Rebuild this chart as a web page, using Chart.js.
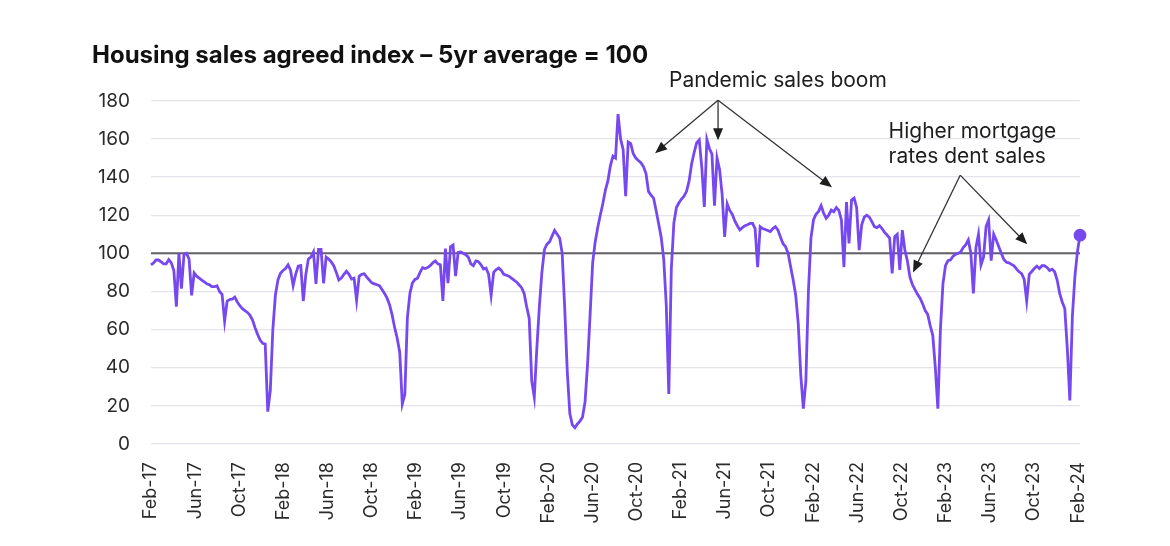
<!DOCTYPE html>
<html>
<head>
<meta charset="utf-8">
<script src="https://cdn.jsdelivr.net/npm/chart.js@4.4.1/dist/chart.umd.min.js"></script>
<style>
  html, body { margin: 0; padding: 0; background: #fff; }
  #wrap { width: 1170px; height: 546px; }
</style>
</head>
<body>
<div id="wrap"><canvas id="chart"></canvas></div>
<script>
// Weekly sales agreed index (5yr average = 100), first week of Feb 2017 onwards
const weeks2017 = [94, 95, 96.5, 96.5, 95.5, 94.5, 94.5, 96.7, 95, 91, 72, 100, 81.5, 99.5, 100, 97, 78, 89.7, 88, 87,
  86, 85, 84, 83.5, 82.5, 82.5, 83, 80, 78.5, 64.5, 75, 75.8, 76, 77, 74.5, 72.5, 71, 70, 69, 67.5,
  65, 61, 57.5, 54.5, 52.8, 52.4, 17, 28, 60, 78, 86, 89.5];
const weeks2018 = [91, 92, 94, 91, 83, 89, 93.3, 93.6, 75, 89, 97, 98, 100.7, 84, 102, 102, 84.3, 98, 97, 95.5,
  93.5, 90, 86, 87, 89, 90.6, 89, 86.5, 87, 75.3, 88, 89, 89.3, 87.5, 86, 84.5, 84, 83.5, 83, 81,
  79, 76.5, 73, 67.7, 61, 55.5, 48, 21, 26, 66, 79, 84.5];
const weeks2019 = [86.3, 87, 90, 92.5, 92, 92.5, 93.5, 95, 96, 94.5, 94, 75, 102.5, 84.3, 103.5, 104.4, 88, 100.5, 100.7, 100,
  99.3, 98, 94.5, 93.5, 96, 95.6, 94, 91.8, 92.3, 89, 78, 90, 91.5, 92.3, 91, 89, 88.5, 88, 87, 86,
  85, 83.5, 82, 79, 72, 66, 33, 24.6, 50, 72, 90, 102];
const weeks2020 = [104.8, 106, 109, 112, 110, 108, 100, 71, 38, 16, 10, 8.5, 10.5, 12, 14, 22, 42, 68, 95, 106,
  113.5, 120, 126, 133, 138, 146, 151, 150, 173, 160, 154.5, 130, 158.4, 157.5, 152.2, 150, 148.7, 147.5, 145.5, 142,
  132.5, 130.5, 129, 122.5, 115.5, 108.5, 97, 73, 26.3, 92, 116, 124];
const weeks2021 = [126.5, 128.5, 130, 132.5, 138, 147, 153, 158, 159.5, 145, 124.3, 159.7, 155, 152, 125, 150, 144, 131, 108.6, 126,
  122.5, 120.5, 117, 114.5, 112.3, 113.5, 114.5, 115, 115.7, 115.7, 113, 92.8, 114, 113, 112.5, 112, 111.4, 113, 114, 112.2,
  108.5, 105, 103.5, 100, 93, 86, 78, 63, 36, 18.5, 33, 80];
const weeks2022 = [108, 117.5, 120.5, 122, 125, 121, 118.4, 120, 122.7, 121.8, 124, 122.5, 117.5, 92.8, 126.9, 105.2, 128, 129, 124, 101.7,
  115, 119, 120, 119, 116.6, 114, 113.5, 114.5, 113, 111, 109.6, 108, 89.5, 108.7, 110, 91.3, 112.2, 101.7, 96, 87.5,
  83.5, 81, 78.5, 76.5, 73.5, 70, 68, 62, 57, 40, 18.5, 60];
const weeks2023 = [84, 93.5, 96.2, 96.6, 98.5, 99.5, 100, 100.7, 103, 104.5, 107, 100, 79, 103, 110, 94, 98, 114, 117.5, 96.2,
  110, 107, 103.5, 100, 96.8, 95.3, 95, 94.2, 93.4, 91.8, 90.3, 89.3, 86.5, 75, 89, 90.5, 92, 93.3, 92, 93.5,
  93.5, 92.6, 91, 91.7, 90.3, 86, 79, 74.5, 71, 50, 22.8, 67];
const weeks2024 = [88, 101, 109.5];

const salesIndex = [].concat(weeks2017, weeks2018, weeks2019, weeks2020, weeks2021, weeks2022, weeks2023, weeks2024);

const tickLabels = ['Feb-17', 'Jun-17', 'Oct-17', 'Feb-18', 'Jun-18', 'Oct-18', 'Feb-19', 'Jun-19', 'Oct-19',
  'Feb-20', 'Jun-20', 'Oct-20', 'Feb-21', 'Jun-21', 'Oct-21', 'Feb-22', 'Jun-22', 'Oct-22',
  'Feb-23', 'Jun-23', 'Oct-23', 'Feb-24'];
const averageLevel = 100;

// four months expressed in weeks
const weeksPerTick = 365.25 / 7 / 3;

const lineColor = '#7548f0';
const textColor = '#2b2b2b';
const fontFamily = 'Inter, "Noto Sans", sans-serif';

// callouts, anchored in data coordinates (week index, index value)
const callouts = [
  { lines: ['Pandemic sales boom'], at: [247, 190.5], align: 'center',
    from: [223.4, 180.3], tips: [[198.6, 152.5], [223.4, 159.3], [268.3, 134.6]] },
  { lines: ['Higher mortgage', 'rates dent sales'], at: [290.6, 164], align: 'left',
    from: [318.8, 141], tips: [[300.2, 90], [345.2, 104.7]] }
];

const averageLine = {
  id: 'averageLine',
  beforeDatasetsDraw(chart) {
    const { ctx, chartArea, scales } = chart;
    const y = scales.y.getPixelForValue(averageLevel);
    ctx.save();
    ctx.strokeStyle = '#606066';
    ctx.lineWidth = 2;
    ctx.beginPath();
    ctx.moveTo(chartArea.left, y);
    ctx.lineTo(chartArea.right, y);
    ctx.stroke();
    ctx.restore();
  }
};

function drawArrow(ctx, x0, y0, x1, y1) {
  const ang = Math.atan2(y1 - y0, x1 - x0);
  const len = 12, half = 5;
  ctx.beginPath();
  ctx.moveTo(x0, y0);
  ctx.lineTo(x1 - Math.cos(ang) * len * 0.8, y1 - Math.sin(ang) * len * 0.8);
  ctx.stroke();
  ctx.beginPath();
  ctx.moveTo(x1, y1);
  ctx.lineTo(x1 - Math.cos(ang) * len + Math.sin(ang) * half, y1 - Math.sin(ang) * len - Math.cos(ang) * half);
  ctx.lineTo(x1 - Math.cos(ang) * len - Math.sin(ang) * half, y1 - Math.sin(ang) * len + Math.cos(ang) * half);
  ctx.closePath();
  ctx.fill();
}

const calloutPlugin = {
  id: 'callouts',
  afterDraw(chart) {
    const { ctx, scales } = chart;
    const px = (p) => [scales.x.getPixelForValue(p[0]), scales.y.getPixelForValue(p[1])];
    ctx.save();
    ctx.font = '400 21px ' + fontFamily;
    ctx.fillStyle = '#1e1e1e';
    ctx.strokeStyle = '#333';
    ctx.lineWidth = 1.3;
    callouts.forEach((c) => {
      const [tx, ty] = px(c.at);
      ctx.textAlign = c.align;
      ctx.textBaseline = 'middle';
      c.lines.forEach((line, k) => ctx.fillText(line, tx, ty + k * 25));
      const [ox, oy] = px(c.from);
      c.tips.forEach((t) => {
        const [ax, ay] = px(t);
        drawArrow(ctx, ox, oy, ax, ay);
      });
    });
    ctx.restore();
  }
};

new Chart(document.getElementById('chart'), {
  type: 'line',
  data: {
    datasets: [{
      data: salesIndex.map((v, i) => ({ x: i, y: v })),
      borderColor: lineColor,
      backgroundColor: lineColor,
      borderWidth: 2.8,
      pointRadius: (c) => (c.dataIndex === salesIndex.length - 1 ? 5 : 0),
      pointHoverRadius: 0,
      clip: false,
      tension: 0
    }]
  },
  options: {
    responsive: true,
    maintainAspectRatio: false,
    animation: false,
    devicePixelRatio: 1,
    layout: { padding: { left: 92, right: 90, top: 0, bottom: 10 } },
    plugins: {
      legend: { display: false },
      tooltip: { enabled: false },
      title: {
        display: true,
        text: 'Housing sales agreed index – 5yr average = 100',
        align: 'start',
        color: '#111',
        font: { family: fontFamily, size: 24, weight: 'bold' },
        padding: { top: 41, bottom: 31 }
      }
    },
    scales: {
      x: {
        type: 'linear',
        min: 0,
        max: salesIndex.length - 1,
        grid: { display: false },
        border: { display: false },
        afterBuildTicks: (axis) => {
          axis.ticks = tickLabels.map((_, k) => ({ value: k * weeksPerTick }));
        },
        afterFit: (axis) => { axis.height = 92; },
        ticks: {
          autoSkip: false,
          minRotation: 90,
          maxRotation: 90,
          padding: 10,
          color: textColor,
          font: { family: fontFamily, size: 18 },
          callback: (v, i) => tickLabels[i]
        }
      },
      y: {
        min: 0,
        max: 180,
        afterFit: (axis) => { axis.width = 59; },
        grid: { color: '#e4e4ea', lineWidth: 1.2, drawTicks: false },
        border: { display: false },
        ticks: {
          stepSize: 20,
          padding: 21,
          color: textColor,
          font: { family: fontFamily, size: 19 }
        }
      }
    }
  },
  plugins: [averageLine, calloutPlugin]
});
</script>
</body>
</html>
